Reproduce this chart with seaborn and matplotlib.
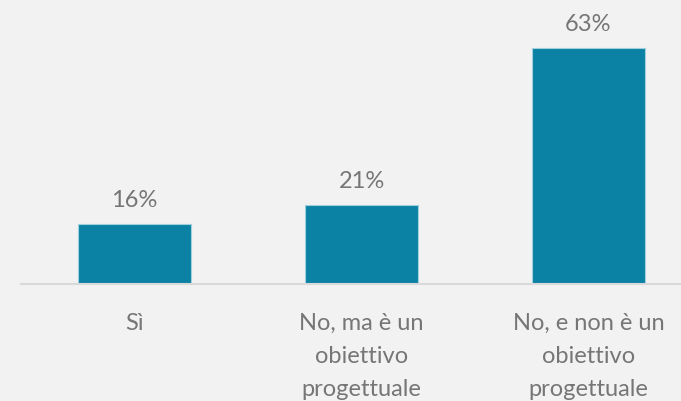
import matplotlib
matplotlib.use("Agg")
import matplotlib.pyplot as plt
import seaborn as sns
import pandas as pd

# chart data
categories = ["Sì", "No, ma è un\nobiettivo\nprogettuale", "No, e non è un\nobiettivo\nprogettuale"]
values = [16, 21, 63]
value_labels = ["16%", "21%", "63%"]

BG = "#f2f2f2"
BAR = "#0b81a3"
TEXT = "#767676"

sns.set_theme(style="white")
plt.rcParams["font.family"] = ["Lato", "DejaVu Sans"]

fig = plt.figure(figsize=(6.81, 4.02), dpi=100, facecolor=BG)
ax = fig.add_axes([21 / 681, (402 - 285) / 402, 660 / 681, 285 / 402])
ax.set_facecolor(BG)

df = pd.DataFrame({"cat": categories, "val": values})
sns.barplot(data=df, x="cat", y="val", color=BAR, width=0.5, saturation=1,
            edgecolor="#9fd0dd", linewidth=0.8, ax=ax)

ax.set_xlim(-0.5, -0.5 + 660 / 227)
ax.set_ylim(0, 285 / 3.746)

# value labels above bars
for i, (v, lab) in enumerate(zip(values, value_labels)):
    ax.annotate(lab, (i, v), xytext=(0, 13), textcoords="offset points",
                ha="center", va="baseline", fontsize=17, color=TEXT)

for s in ["top", "left", "right"]:
    ax.spines[s].set_visible(False)
ax.spines["bottom"].set_color("#d9d9d9")
ax.spines["bottom"].set_linewidth(1.5)

ax.set_yticks([])
ax.set_xlabel("")
ax.set_ylabel("")
ax.tick_params(axis="x", length=0, pad=20, labelsize=17, labelcolor=TEXT)
for t in ax.get_xticklabels():
    t.set_linespacing(1.7)

fig.savefig("out.png", dpi=100, facecolor=BG)
